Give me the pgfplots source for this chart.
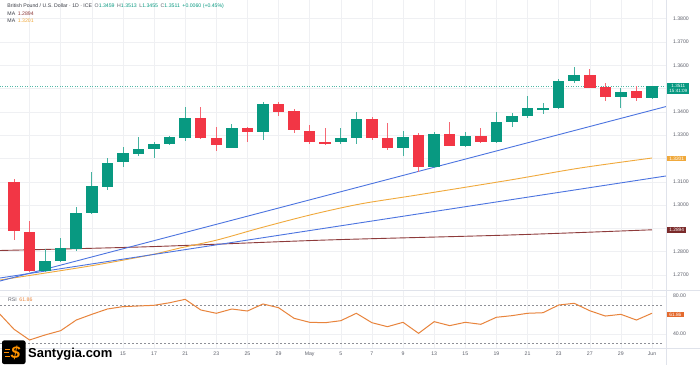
\documentclass[border=0pt]{standalone}
\usepackage{pgfplots}
\pgfplotsset{compat=1.18}
\usepackage{pgfplotstable}
\usepackage{fontspec}
\setmainfont{Liberation Sans}
\definecolor{tvgreen}{HTML}{089981}
\definecolor{tvred}{HTML}{F23645}
\definecolor{tvblue}{HTML}{4C74E0}
\definecolor{maorange}{HTML}{F0A93C}
\definecolor{mamaroon}{HTML}{8E3B3B}
\definecolor{maroonbox}{HTML}{7B2B2B}
\definecolor{rsiorange}{HTML}{E8843C}
\definecolor{rsibox}{HTML}{E46A2E}
\definecolor{gridgray}{HTML}{EFF0F3}
\definecolor{labelgray}{HTML}{5D606B}
\definecolor{txtdark}{HTML}{3A3D46}
\definecolor{sepgray}{HTML}{E0E3EB}

\pgfplotstableread{
i o h l c
2 1.2718 1.2810 1.2715 1.2761
3 1.2761 1.2860 1.2756 1.2815
4 1.2810 1.2993 1.2805 1.2965
5 1.2965 1.3143 1.2962 1.3083
6 1.3076 1.3201 1.3065 1.3179
7 1.3184 1.3248 1.3165 1.3222
8 1.3218 1.3291 1.3211 1.3240
9 1.3240 1.3272 1.3203 1.3261
10 1.3261 1.3298 1.3258 1.3294
11 1.3289 1.3419 1.3277 1.3375
14 1.3246 1.3347 1.3243 1.3330
16 1.3312 1.3441 1.3279 1.3433
21 1.3270 1.3332 1.3262 1.3287
22 1.3287 1.3401 1.3261 1.3370
25 1.3244 1.3319 1.3211 1.3294
27 1.3162 1.3315 1.3159 1.3304
29 1.3255 1.3315 1.3249 1.3298
31 1.3270 1.3401 1.3267 1.3358
32 1.3358 1.3397 1.3334 1.3382
33 1.3382 1.3468 1.3373 1.3415
34 1.3414 1.3440 1.3391 1.3415
35 1.3415 1.3540 1.3412 1.3533
36 1.3534 1.3594 1.3523 1.3558
39 1.3463 1.3504 1.3415 1.3487
41 1.3459 1.3513 1.3455 1.3511
}\greencandles

\pgfplotstableread{
i o h l c
0 1.3098 1.3112 1.2850 1.2889
1 1.2886 1.2933 1.2713 1.2718
12 1.3375 1.3422 1.3284 1.3287
13 1.3289 1.3336 1.3233 1.3258
15 1.3330 1.3336 1.3272 1.3312
17 1.3433 1.3441 1.3382 1.3401
18 1.3405 1.3412 1.3308 1.3322
19 1.3319 1.3344 1.3261 1.3271
20 1.3272 1.3330 1.3260 1.3262
23 1.3370 1.3378 1.3279 1.3289
24 1.3289 1.3354 1.3236 1.3246
26 1.3301 1.3309 1.3143 1.3162
28 1.3304 1.3358 1.3252 1.3255
30 1.3298 1.3330 1.3265 1.3272
37 1.3558 1.3583 1.3503 1.3504
38 1.3506 1.3523 1.3448 1.3463
40 1.3490 1.3511 1.3447 1.3459
}\redcandles

\pgfplotstableread{
i r
-1 62.5
0 45.0
1 33.7
2 39.0
3 43.5
4 54.7
5 60.7
6 66.3
7 68.8
8 69.5
9 70.2
10 72.9
11 76.5
12 65.3
13 61.8
14 66.3
15 64.2
16 71.6
17 67.7
18 56.5
19 52.3
20 51.9
21 54.0
22 61.8
23 51.9
24 47.7
25 52.3
26 40.7
27 53.0
28 48.8
29 52.3
30 50.2
31 57.6
32 59.3
33 61.8
34 62.4
35 70.5
36 72.3
37 64.5
38 58.9
39 60.7
40 54.7
41 61.86
}\rsidata

\pgfplotsset{
  tvaxis/.style={
    scale only axis, anchor=south west,
    width=666bp, xmin=-0.9, xmax=41.9,
    axis line style={draw=none}, major tick length=0pt,
    grid=major, grid style={gridgray, line width=0.5bp},
    xtick={1,3,...,41},
    yticklabel pos=right,
    ticklabel style={font=\fontsize{5.2}{6}\selectfont, text=labelgray},
    /pgf/number format/assume math mode=true,
  },
  candle/.style={draw=none, mark=none, forget plot,
    error bars/.cd, y dir=both, y explicit, error mark=none,
    error bar style={draw=#1, line width=11.5bp}},
  wick/.style={draw=none, mark=none, forget plot,
    error bars/.cd, y dir=both, y explicit, error mark=none,
    error bar style={draw=#1, line width=0.8bp}},
}

\begin{document}
\begin{tikzpicture}
\useasboundingbox[fill=white] (0bp,0bp) rectangle (700bp,365bp);

% main price panel
\begin{axis}[tvaxis, at={(0bp,76bp)}, height=289bp,
  ymin=1.26399, ymax=1.38803,
  xticklabels={},
  ytick={1.27,1.28,1.29,1.30,1.31,1.32,1.33,1.34,1.35,1.36,1.37,1.38},
  yticklabels={1.2700,1.2800,,1.3000,1.3100,,1.3300,1.3400,,1.3600,1.3700,1.3800},
  yticklabel style={xshift=3.5bp},
]
\addplot[tvgreen!70, dotted, line width=0.5bp] coordinates {(-0.9,1.3511) (41.9,1.3511)};
\addplot[mamaroon, line width=0.9bp, smooth] coordinates {(-0.9,1.28052) (8.74,1.28215) (20,1.28500) (31.88,1.28717) (41,1.2894)};
\addplot[maorange, line width=0.9bp, smooth] coordinates {(-0.9,1.26785) (4.88,1.27386) (8.74,1.27858) (10.67,1.28159) (13.05,1.28502) (15.81,1.29017) (19.02,1.29575) (22.24,1.30047) (25.90,1.30433) (31.88,1.31077) (36.38,1.31592) (41,1.32021)};
\addplot[tvblue, line width=0.9bp] coordinates {(-0.9,1.26742) (41.9,1.3423)};
\addplot[tvblue, line width=0.9bp] coordinates {(-0.9,1.26871) (41.9,1.3125)};
% wicks
\addplot[wick=tvgreen!75]
  table[x=i, y expr={(\thisrow{h}+\thisrow{l})/2}, y error expr={(\thisrow{h}-\thisrow{l})/2}] {\greencandles};
\addplot[wick=tvred!75]
  table[x=i, y expr={(\thisrow{h}+\thisrow{l})/2}, y error expr={(\thisrow{h}-\thisrow{l})/2}] {\redcandles};
% bodies
\addplot[candle=tvgreen]
  table[x=i, y expr={(\thisrow{o}+\thisrow{c})/2}, y error expr={max(abs(\thisrow{c}-\thisrow{o})/2,0.00025)}] {\greencandles};
\addplot[candle=tvred]
  table[x=i, y expr={(\thisrow{o}+\thisrow{c})/2}, y error expr={max(abs(\thisrow{c}-\thisrow{o})/2,0.00025)}] {\redcandles};
\end{axis}

% RSI panel
\begin{axis}[tvaxis, at={(0bp,17bp)}, height=57bp,
  ymin=25.26, ymax=85.26,
  xticklabels={,,,15,17,21,23,25,29,May,5,7,9,13,15,19,21,23,27,29,Jun},
  xticklabel style={inner sep=1bp, yshift=-2.5bp},
  ytick={40,80}, yticklabels={40.00,80.00},
  yticklabel style={xshift=3.5bp},
]
\addplot[labelgray!70, line width=0.5bp, dash pattern=on 2bp off 2bp] coordinates {(-0.9,70) (41.7,70)};
\addplot[labelgray!70, line width=0.5bp, dash pattern=on 2bp off 2bp] coordinates {(-0.9,30) (41.7,30)};
\addplot[rsiorange, line width=1bp] table[x=i, y=r] {\rsidata};
\end{axis}

% separators
\draw[sepgray, line width=0.6bp] (0bp,75bp) -- (700bp,75bp);
\draw[sepgray, line width=0.6bp] (0bp,16.5bp) -- (700bp,16.5bp);
\draw[sepgray, line width=0.5bp] (666.5bp,0bp) -- (666.5bp,365bp);

% legend text
\node[anchor=west, inner sep=0, font=\fontsize{5.2}{6}\selectfont, text=txtdark] at (7.3bp,359bp)
  {British Pound / U.S. Dollar · 1D · ICE\enspace
   \textcolor{labelgray}{O}\textcolor{tvgreen}{1.3459}\enspace
   \textcolor{labelgray}{H}\textcolor{tvgreen}{1.3513}\enspace
   \textcolor{labelgray}{L}\textcolor{tvgreen}{1.3455}\enspace
   \textcolor{labelgray}{C}\textcolor{tvgreen}{1.3511}\enspace
   \textcolor{tvgreen}{+0.0060 (+0.45\%)}};
\node[anchor=west, inner sep=0, font=\fontsize{5.2}{6}\selectfont, text=txtdark] at (7.3bp,351.7bp)
  {MA\enspace\textcolor{mamaroon}{1.2894}};
\node[anchor=west, inner sep=0, font=\fontsize{5.2}{6}\selectfont, text=txtdark] at (7.3bp,344.3bp)
  {MA\enspace\textcolor{maorange}{1.3201}};
\node[anchor=west, inner sep=0, font=\fontsize{5.2}{6}\selectfont, text=labelgray] at (8bp,65bp)
  {RSI\enspace\textcolor{rsiorange}{61.86}};

% price labels on the right
\node[anchor=west, fill=tvgreen, text=white, inner xsep=2.2bp, inner ysep=1.2bp, align=center,
  font=\fontsize{4.6}{5.6}\selectfont] at (667bp,276.5bp) {1.3511\\15:41:09};
\node[anchor=west, fill=maorange, text=white, inner xsep=2.2bp, inner ysep=1.1bp,
  font=\fontsize{4.8}{5.6}\selectfont] at (667bp,206.5bp) {1.3201};
\node[anchor=west, fill=maroonbox, text=white, inner xsep=2.2bp, inner ysep=1.1bp,
  font=\fontsize{4.8}{5.6}\selectfont] at (667bp,135bp) {1.2894};
\node[anchor=west, fill=rsibox, text=white, inner xsep=2.2bp, inner ysep=1.1bp,
  font=\fontsize{4.8}{5.6}\selectfont] at (667bp,50.5bp) {61.86};

% logo
\fill[black, rounded corners=2bp] (2bp,1bp) rectangle (25.5bp,24.5bp);
\draw[orange!90!yellow, line width=0.8bp] (5bp,16bp) -- (10bp,16bp) (4bp,12.5bp) -- (9bp,12.5bp) (5bp,9bp) -- (10bp,9bp);
\node[font=\fontsize{17}{17}\bfseries\itshape, text=orange!85!yellow, inner sep=0] at (15.5bp,12.5bp) {\$};
\node[anchor=base west, inner sep=0, font=\fontsize{13}{13}\bfseries, text=black] at (28bp,8bp) {Santygia.com};
\end{tikzpicture}
\end{document}
